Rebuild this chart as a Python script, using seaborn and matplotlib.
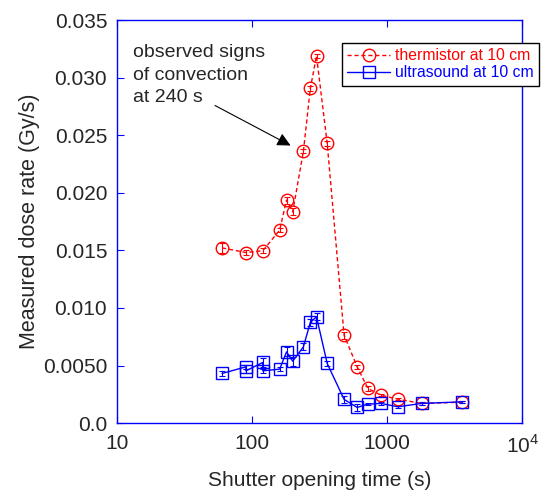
import numpy as np
import pandas as pd
import seaborn as sns
import matplotlib.pyplot as plt
from matplotlib.ticker import FixedLocator, FixedFormatter, NullLocator

# thermistor at 10 cm (red, dashed)
therm_t = [60, 90, 120, 160, 180, 200, 240, 270, 300, 360, 480, 600, 720, 900, 1200, 1800, 3600]
therm_rate = [0.01522, 0.01482, 0.01497, 0.01676, 0.01937, 0.01835, 0.02362, 0.02907, 0.03190,
              0.02429, 0.00764, 0.00489, 0.00301, 0.00243, 0.00208, 0.00171, 0.00182]
therm_err = [0.0004, 0.0002, 0.0002, 0.0002, 0.0003, 0.0003, 0.0002, 0.0002, 0.0002,
             0.0002, 0.0003, 0.0002, 0.0002, 0.0001, 0.0001, 0.0001, 0.0001]

# ultrasound at 10 cm (blue, solid)
us_t = [60, 90, 90, 120, 120, 160, 180, 200, 240, 270, 300, 360, 480, 600, 720, 900, 1200, 1800, 3600]
us_rate = [0.00431, 0.00489, 0.00454, 0.00527, 0.00454, 0.00469, 0.00619, 0.00538, 0.00663,
           0.00875, 0.00923, 0.00518, 0.00206, 0.00136, 0.00165, 0.00171, 0.00142, 0.00171, 0.00185]
us_err = [0.0002, 0.0002, 0.0002, 0.0004, 0.0002, 0.0002, 0.0004, 0.0004, 0.0003,
          0.0003, 0.0003, 0.0002, 0.0003, 0.0003, 0.0001, 0.0001, 0.0001, 0.0001, 0.0001]

x_ticks = [10, 100, 1000, 10000]
x_labels = ["10", "100", "1000", "10$^4$"]
y_ticks = [0.0, 0.005, 0.010, 0.015, 0.020, 0.025, 0.030, 0.035]
y_labels = ["0.0", "0.0050", "0.010", "0.015", "0.020", "0.025", "0.030", "0.035"]

sns.set_style("white")
plt.rcParams['font.family'] = ['Liberation Sans', 'DejaVu Sans']
plt.rcParams['mathtext.fontset'] = 'custom'
plt.rcParams['mathtext.rm'] = 'Liberation Sans'

therm = pd.DataFrame({"t": therm_t, "rate": therm_rate})
us = pd.DataFrame({"t": us_t, "rate": us_rate})

fig = plt.figure(figsize=(5.44, 4.92), dpi=100)
ax = fig.add_axes([0.215, 0.14, 0.745, 0.819])

ax.errorbar(therm_t, therm_rate, yerr=therm_err, fmt="none", ecolor="red",
            elinewidth=0.8, capsize=2.5, capthick=0.8)
ax.errorbar(us_t, us_rate, yerr=us_err, fmt="none", ecolor="blue",
            elinewidth=0.8, capsize=2.5, capthick=0.8)

sns.lineplot(data=therm, x="t", y="rate", ax=ax, estimator=None, sort=False,
             color="red", linestyle=(0, (3, 2)), linewidth=1, marker="o", markersize=9,
             markerfacecolor="none", markeredgecolor="red", markeredgewidth=1,
             label="thermistor at 10 cm")
sns.lineplot(data=us, x="t", y="rate", ax=ax, estimator=None, sort=False,
             color="blue", linewidth=1, marker="s", markersize=9,
             markerfacecolor="none", markeredgecolor="blue", markeredgewidth=1,
             label="ultrasound at 10 cm")

ax.set_xscale("log")
ax.set_xlim(10, 10000)
ax.set_ylim(0, 0.035)
ax.xaxis.set_major_locator(FixedLocator(x_ticks))
ax.xaxis.set_major_formatter(FixedFormatter(x_labels))
ax.xaxis.set_minor_locator(NullLocator())
ax.yaxis.set_major_locator(FixedLocator(y_ticks))
ax.yaxis.set_major_formatter(FixedFormatter(y_labels))

for s in ax.spines.values():
    s.set_color("blue")
    s.set_linewidth(1)
ax.tick_params(axis="x", which="major", direction="in", color="blue", length=5,
               top=True, bottom=True, labelsize=15, pad=8)
ax.tick_params(axis="y", which="major", direction="in", color="blue", length=5,
               left=True, right=False, labelsize=15, pad=7)

ax.set_xlabel("Shutter opening time (s)", fontsize=15, labelpad=10)
ax.set_ylabel("Measured dose rate (Gy/s)", fontsize=15.5, labelpad=2)

ax.text(13.2, 0.0329, "observed signs\nof convection\nat 240 s", fontsize=14,
        va="top", ha="left", linespacing=1.4)
ax.annotate("", xy=(201, 0.0240), xytext=(51, 0.0277),
            arrowprops=dict(arrowstyle="-|>", color="black", lw=0.8,
                            mutation_scale=20))

leg = ax.legend(loc="upper left", bbox_to_anchor=(342 / 544, 1 - 43 / 492),
                bbox_transform=fig.transFigure, fontsize=11.3,
                frameon=True, fancybox=False, edgecolor="black", framealpha=1,
                handlelength=2.7, handletextpad=0.3, borderpad=0.35,
                labelspacing=0.1, borderaxespad=0)
leg.get_frame().set_linewidth(1)
leg.get_texts()[0].set_color("red")
leg.get_texts()[1].set_color("blue")

fig.savefig("out.png", dpi=100)
